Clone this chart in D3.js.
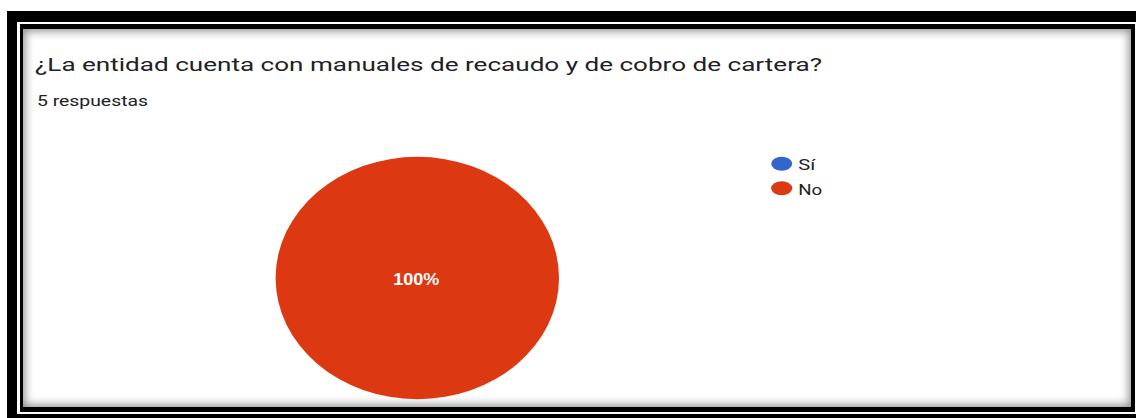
<!DOCTYPE html>
<html>
<head>
<meta charset="utf-8">
<script src="https://cdn.jsdelivr.net/npm/d3@7"></script>
<style>
  html, body { margin: 0; padding: 0; width: 1136px; height: 418px; overflow: hidden; background: #fff; }
  .abs { position: absolute; box-sizing: border-box; }
  svg { position: absolute; left: 0; top: 0; }
</style>
</head>
<body>
<script>
const title = "¿La entidad cuenta con manuales de recaudo y de cobro de cartera?";
const subtitle = "5 respuestas";
const categories = ["Sí", "No"];
const values = [0, 5];
const colors = ["#3366cc", "#dc3912"];

const W = 1136, H = 418;
const body = d3.select("body");

// frame (double border with inner shadow)
body.append("div").attr("class", "abs")
  .style("left", "7px").style("top", "11px").style("width", "1140px").style("height", "420px")
  .style("background", "#000");
body.append("div").attr("class", "abs")
  .style("left", "17px").style("top", "22px").style("width", "1125px").style("height", "392px")
  .style("background", "#fff");
body.append("div").attr("class", "abs")
  .style("left", "20px").style("top", "24px").style("width", "1115px").style("height", "388px")
  .style("background", "#fff")
  .style("border-style", "solid").style("border-color", "#000")
  .style("border-width", "5px 4px 5px 3px")
  .style("box-shadow", "inset 0 0 10px 2px rgba(0,0,0,0.45)");

const svg = body.append("svg").attr("width", W).attr("height", H);

function fitText(sel, target) {
  const n = sel.node();
  sel.attr("textLength", target).attr("lengthAdjust", "spacingAndGlyphs");
}

const t = svg.append("text")
  .attr("x", 35).attr("y", 71)
  .attr("font-family", "Roboto, 'Open Sans', sans-serif")
  .attr("font-size", 19).attr("fill", "#202124")
  .text(title);
fitText(t, 787);

const s = svg.append("text")
  .attr("x", 37).attr("y", 106)
  .attr("font-family", "Roboto, 'Open Sans', sans-serif")
  .attr("font-size", 14.5).attr("fill", "#202124")
  .text(subtitle);
fitText(s, 111);

// pie
const data = categories.map((c, i) => ({ cat: c, value: values[i], color: colors[i] }));
const total = d3.sum(values);
const cx = 417.3, cy = 278, ry = 121.2, rx = 141.7;
const pie = d3.pie().value(d => d.value).sort(null);
const arc = d3.arc().innerRadius(0).outerRadius(ry);
const g = svg.append("g").attr("transform", `translate(${cx},${cy}) scale(${rx / ry},1)`);
const arcs = pie(data).filter(a => a.data.value > 0);
g.selectAll("path").data(arcs).join("path")
  .attr("d", arc).attr("fill", d => d.data.color);

const labels = svg.append("g").attr("transform", `translate(${cx},${cy})`);
arcs.forEach(a => {
  const frac = a.data.value / total;
  let p = [0, 0];
  if (frac < 1) { const c = arc.centroid(a); p = [c[0] * rx / ry, c[1]]; }
  const lt = labels.append("text")
    .attr("x", p[0] - 1).attr("y", p[1] + 7)
    .attr("text-anchor", "middle")
    .attr("font-family", "'Liberation Sans', Arial, sans-serif")
    .attr("font-weight", "bold").attr("font-size", 16.5).attr("fill", "#fff")
    .text(d3.format(".0%")(frac));
  fitText(lt, 46);
});

// legend
const lg = svg.append("g");
const item = lg.selectAll("g").data(data).join("g")
  .attr("transform", (d, i) => `translate(781.7,${163.7 + i * 24.6})`);
item.append("ellipse").attr("rx", 10.5).attr("ry", 7).attr("fill", d => d.color);
item.append("text").attr("x", 16.5).attr("y", 6.3)
  .attr("font-family", "Roboto, 'Open Sans', sans-serif")
  .attr("font-size", 15).attr("fill", "#222")
  .text(d => d.cat)
  .each(function(d) { d3.select(this).attr("textLength", d.cat === "Sí" ? 17 : 24).attr("lengthAdjust", "spacingAndGlyphs"); });
</script>
</body>
</html>
